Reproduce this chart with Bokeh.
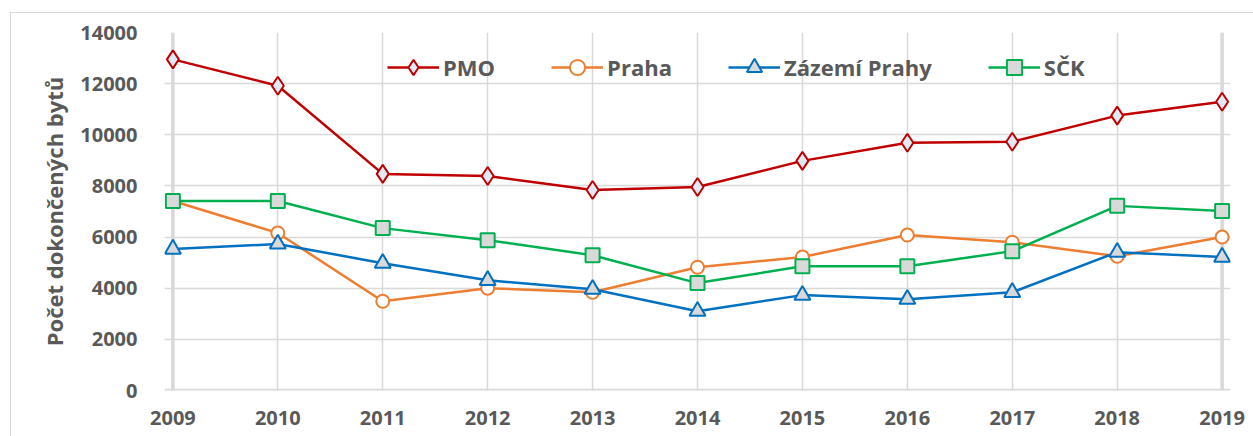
from bokeh.plotting import figure
from bokeh.models import Span, Legend, LegendItem, FixedTicker, InlineStyleSheet
from bokeh.embed import file_html
from bokeh.resources import INLINE

years = [2009, 2010, 2011, 2012, 2013, 2014, 2015, 2016, 2017, 2018, 2019]
pmo = [12950, 11920, 8470, 8390, 7840, 7960, 8980, 9690, 9730, 10750, 11290]
praha = [7410, 6160, 3490, 4000, 3840, 4820, 5220, 6080, 5800, 5250, 6000]
zazemi = [5530, 5730, 4980, 4310, 3960, 3100, 3730, 3570, 3840, 5410, 5220]
sck = [7410, 7410, 6350, 5880, 5290, 4200, 4860, 4860, 5450, 7220, 7020]
y_ticks = [0, 2000, 4000, 6000, 8000, 10000, 12000, 14000]
y_label = "Počet dokončených bytů"

FONT = "Open Sans"
TXT = "#595959"
GRID = "#D9D9D9"

p = figure(width=1250, height=434, x_range=(2008.92, 2019.08), y_range=(0, 14000),
           output_backend="svg", toolbar_location=None,
           min_border_left=164, min_border_right=20, min_border_top=32, min_border_bottom=44)
p.background_fill_color = "white"
p.outline_line_color = None
p.stylesheets = [InlineStyleSheet(css=(
    ":host { position: relative; }"
    ":host::after { content: ''; position: absolute; left: 10px; top: 12px; "
    "width: 1300px; height: 500px; border: 1px solid #D9D9D9; "
    "pointer-events: none; box-sizing: border-box; z-index: 10; }"
))]

p.xaxis.ticker = FixedTicker(ticks=years)
p.yaxis.ticker = FixedTicker(ticks=y_ticks)
for ax in (p.xaxis[0], p.yaxis[0]):
    ax.axis_line_color = None
    ax.major_tick_line_color = None
    ax.minor_tick_line_color = None
    ax.major_label_text_font = FONT
    ax.major_label_text_font_style = "bold"
    ax.major_label_text_font_size = "20px"
    ax.major_label_text_color = TXT
p.xaxis.major_label_standoff = 14
p.yaxis.major_label_standoff = 21
p.yaxis.axis_label = y_label
p.yaxis.axis_label_text_font = FONT
p.yaxis.axis_label_text_font_style = "bold"
p.yaxis.axis_label_text_font_size = "22px"
p.yaxis.axis_label_text_color = TXT
p.yaxis.axis_label_standoff = 8

p.xgrid.ticker = FixedTicker(ticks=years)
p.ygrid.ticker = FixedTicker(ticks=y_ticks)
p.xgrid.grid_line_color = GRID
p.ygrid.grid_line_color = GRID
p.xgrid.grid_line_width = 1.5
p.ygrid.grid_line_width = 1.5

for loc, dim in ((years[0], "height"), (years[-1], "height"), (0, "width")):
    p.add_layout(Span(location=loc, dimension=dim, line_color=GRID, line_width=3.5, level="underlay"))

series = [
    ("PMO", pmo, "#C00000", "diamond", 18, "#DEEBF7"),
    ("Praha", praha, "#ED7D31", "circle", 13, "white"),
    ("Zázemí Prahy", zazemi, "#0070C0", "triangle", 16, "#D9D9D9"),
    ("SČK", sck, "#00B050", "square", 14, "#D9D9D9"),
]
items = []
for name, vals, col, mk, sz, fill in series:
    lr = p.line(years, vals, line_color=col, line_width=2.5)
    sr = p.scatter(years, vals, marker=mk, size=sz, line_color=col, line_width=2, fill_color=fill)
    items.append(LegendItem(label=name, renderers=[lr, sr]))

legend = Legend(items=items, orientation="horizontal", location=(223, 304),
                border_line_color=None, background_fill_alpha=0,
                glyph_width=52, glyph_height=38, label_standoff=4, spacing=56,
                padding=0, margin=0, label_text_font=FONT, label_text_font_style="bold",
                label_text_font_size="22px", label_text_color=TXT)
p.add_layout(legend)

open("out.html", "w").write(file_html(p, INLINE))
